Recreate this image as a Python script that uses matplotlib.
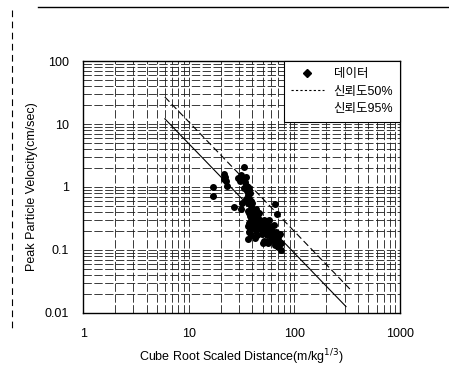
import matplotlib
matplotlib.use("Agg")
import matplotlib.pyplot as plt
import numpy as np
from matplotlib.lines import Line2D

plt.rcParams['font.family'] = ['Liberation Sans', 'Noto Sans CJK KR', 'DejaVu Sans']

# Data
data_x = [16.8, 16.8, 21.5, 22, 22.5, 22.8, 21.8, 27,
          29.5, 30.5, 31, 32, 33.5, 34, 34.5, 35, 33, 35.5, 36, 34.5, 32, 31,
          36, 37, 38, 37.5, 36.5, 38.5, 39, 36, 37, 38, 39.5, 40, 41, 40.5, 42, 43, 44, 42.5,
          41, 39, 37.5, 36.5, 38, 40, 41.5, 43.5, 45, 46, 46.5, 44.5, 43, 37.5, 39, 36.5, 44, 42,
          48, 50, 52, 53, 51, 49, 54, 56, 55, 57, 58, 59, 60, 61, 58, 56, 62, 63, 64, 65, 66,
          68, 70, 72, 74, 75, 70, 67, 65, 69, 73, 52, 50, 48]
data_y = [1.0, 0.72, 1.6, 1.45, 1.25, 1.05, 1.35, 0.48,
          1.4, 1.25, 1.55, 1.3, 2.1, 1.2, 1.45, 1.05, 0.95, 0.85, 0.75, 0.65, 0.55, 0.45,
          1.0, 0.9, 0.8, 0.65, 0.55, 0.6, 0.5, 0.42, 0.38, 0.35, 0.45, 0.55, 0.42, 0.35, 0.38, 0.45, 0.4, 0.3,
          0.28, 0.3, 0.27, 0.24, 0.22, 0.25, 0.22, 0.28, 0.32, 0.38, 0.3, 0.24, 0.2, 0.19, 0.17, 0.15, 0.17, 0.155,
          0.28, 0.25, 0.3, 0.22, 0.2, 0.18, 0.26, 0.2, 0.17, 0.24, 0.3, 0.22, 0.18, 0.15, 0.14, 0.13, 0.2, 0.16, 0.25, 0.13, 0.12,
          0.14, 0.11, 0.12, 0.13, 0.1, 0.16, 0.19, 0.54, 0.37, 0.18, 0.14, 0.13, 0.22]

line50_x = [5.94, 343]
line50_y = [26.9, 0.023]
line95_x = [5.94, 308]
line95_y = [12.1, 0.0126]

labels = ['데이터', '신뢰도50%', '신뢰도95%']

fig = plt.figure(figsize=(4.49, 3.77), dpi=100)
ax = fig.add_axes([0.185, 0.170, 0.706, 0.668])
ax.set_xscale('log')
ax.set_yscale('log')
ax.set_xlim(1, 1000)
ax.set_ylim(0.01, 100)

ax.grid(True, which='both', color='#1a1a1a', linewidth=0.6, linestyle=(0, (10, 3)))
ax.set_axisbelow(True)

ax.scatter(data_x, data_y, marker='o', s=16, color='black', zorder=3, label=labels[0])
ax.plot(line50_x, line50_y, color='black', lw=0.8, linestyle=(0, (6, 3)), zorder=3, label=labels[1])
ax.plot(line95_x, line95_y, color='black', lw=0.8, zorder=3, label=labels[2])

ax.set_xticks([1, 10, 100, 1000])
ax.set_xticklabels(['1', '10', '100', '1000'])
ax.set_yticks([0.01, 0.1, 1, 10, 100])
ax.set_yticklabels(['0.01', '0.1', '1', '10', '100'])
ax.tick_params(which='both', length=0)
ax.tick_params(axis='x', pad=11, labelsize=9)
ax.tick_params(axis='y', pad=10, labelsize=9)
for s in ax.spines.values():
    s.set_color('black')
    s.set_linewidth(1.0)

ax.set_xlabel('Cube Root Scaled Distance(m/kg$^{1/3}$)', fontsize=9, labelpad=5)
ax.set_ylabel('Peak Particle Velocity(cm/sec)', fontsize=9, labelpad=5)

handles = [Line2D([], [], marker='D', color='black', linestyle='none', markersize=4),
           Line2D([], [], color='black', lw=0.8, linestyle=(0, (2, 2))),
           Line2D([], [], color='white', lw=0.8)]
leg = ax.legend(handles, labels, loc='upper right', fontsize=9, frameon=True,
                fancybox=False, edgecolor='black', framealpha=1, borderaxespad=0,
                handlelength=2.6, handletextpad=0.8, labelspacing=0.45, borderpad=0.55)
leg.get_frame().set_linewidth(0.8)
leg.set_zorder(5)

# page decorations from the scan
fig.add_artist(Line2D([38/449, 1.0], [1 - 7/377, 1 - 7/377], color='black', lw=1.0))
fig.add_artist(Line2D([12/449, 12/449], [1 - 10/377, 1 - 330/377], color='black', lw=0.8,
                      linestyle=(0, (6, 4))))

fig.savefig('out.png', dpi=100)
